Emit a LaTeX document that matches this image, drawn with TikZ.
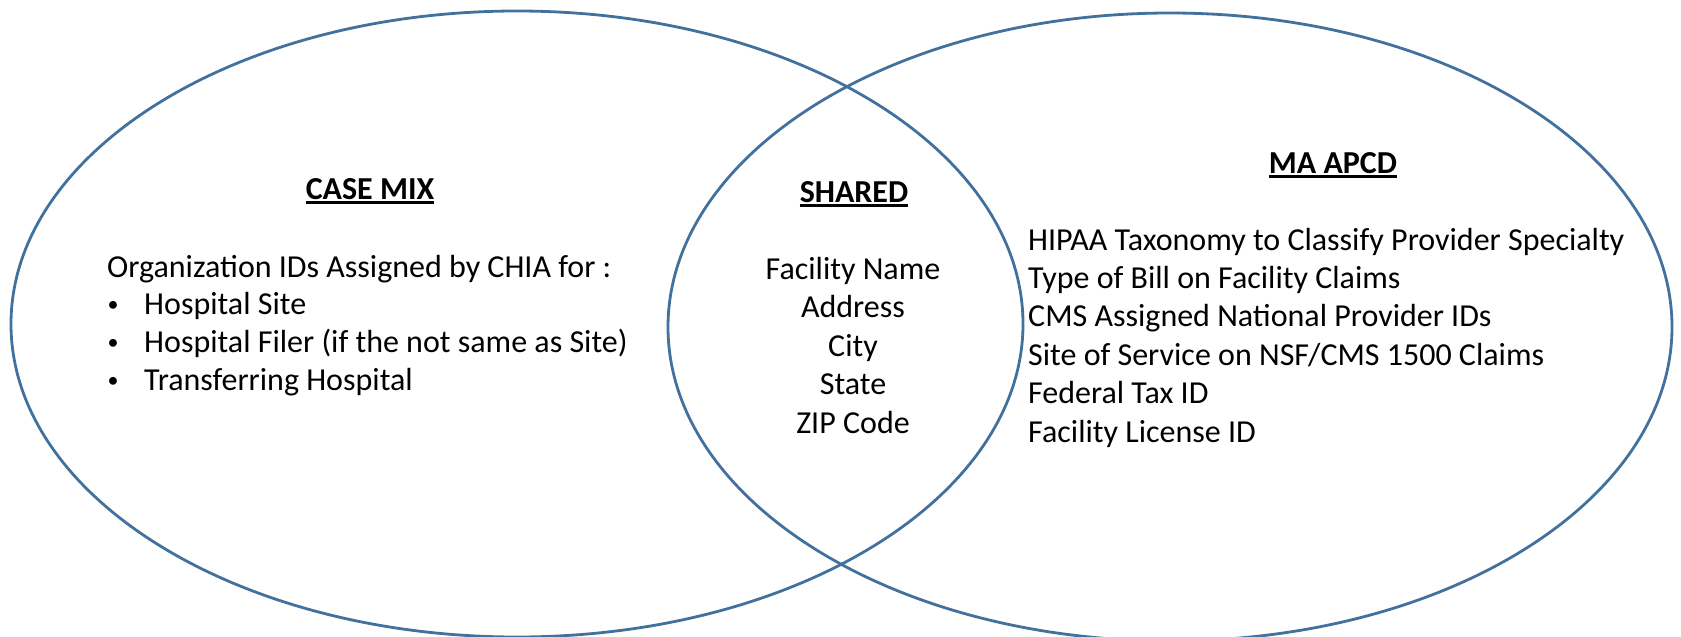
\documentclass[tikz,border=0pt]{standalone}
\usepackage{fontspec}
\setmainfont{Carlito}
\usepackage{tikz}
\definecolor{ring}{HTML}{41719C}
\definecolor{ink}{HTML}{000000}
\tikzset{
  ringline/.style={draw=ring, line width=2.8pt},
  head/.style={text=ink, font=\fontsize{32}{38}\selectfont\bfseries, inner sep=0pt, anchor=base},
  item/.style={text=ink, font=\fontsize{32}{38}\selectfont, inner sep=0pt, anchor=base west},
  mitem/.style={item, anchor=base},
  bul/.style={text=ink, font=\fontsize{22}{26}\selectfont, inner sep=0pt, anchor=base},
  uline/.style={draw=ink, line width=2.4pt}
}

\begin{document}
\begin{tikzpicture}[x=1pt,y=-1pt]
  \useasboundingbox (0,0) rectangle (1681,637);
  \coordinate (L) at (517,324);
  \coordinate (R) at (1170,327);

  % the two sets
  \draw[ringline] (L) ellipse [x radius=506pt, y radius=313pt];
  \draw[ringline] (R) ellipse [x radius=502pt, y radius=314pt];

  % headings
  \node[head] (casemix) at (370,199) {CASE MIX};
  \node[head] (shared) at (854,202) {SHARED};
  \node[head] (apcd) at (1333,173) {MA APCD};
  \foreach \h in {casemix,shared,apcd}
    \draw[uline] ([yshift=-3.5pt]\h.base west) -- ([yshift=-3.5pt]\h.base east);

  % case mix
  \node[item] (org) at (107,277) {Organization IDs Assigned by CHIA for :};
  \foreach \t [count=\i] in {Hospital Site, Hospital Filer (if the not same as Site), Transferring Hospital}{
    \node[bul] (dot\i) at (113,274+37.8*\i) {\textbullet};
    \node[item] (site\i) at (144,277+37.8*\i) {\t};
  }

  % shared
  \foreach \t [count=\i from 0] in {Facility Name, Address, City, State, ZIP Code}
    \node[mitem] (fac\i) at (853,279+38.5*\i) {\t};

  % ma apcd
  \foreach \t [count=\i from 0] in {HIPAA Taxonomy to Classify Provider Specialty, Type of Bill on Facility Claims, CMS Assigned National Provider IDs, Site of Service on NSF/CMS 1500 Claims, Federal Tax ID, Facility License ID}
    \node[item] (ma\i) at (1028,250+38.4*\i) {\t};
\end{tikzpicture}
\end{document}
